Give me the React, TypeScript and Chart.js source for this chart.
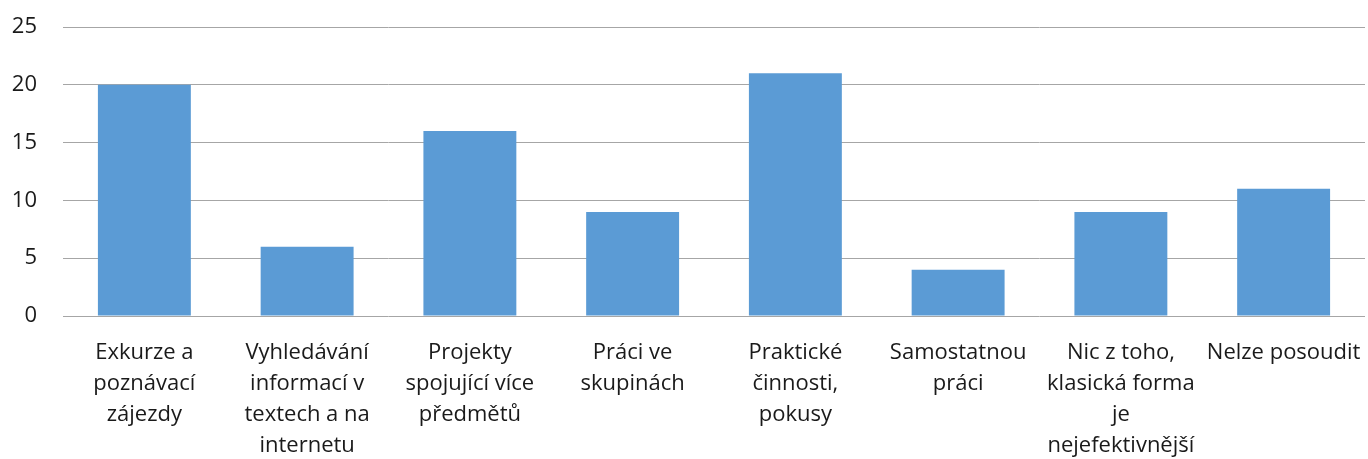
import React, { useEffect, useRef } from "react";
import { Chart, registerables } from "chart.js";

Chart.register(...registerables);

const categories: string[][] = [
  ["Exkurze a", "poznávací", "zájezdy"],
  ["Vyhledávání", "informací v", "textech a na", "internetu"],
  ["Projekty", "spojující více", "předmětů"],
  ["Práci ve", "skupinách"],
  ["Praktické", "činnosti,", "pokusy"],
  ["Samostatnou", "práci"],
  ["Nic z toho,", "klasická forma", "je", "nejefektivnější"],
  ["Nelze posoudit"],
];
const values: number[] = [20, 6, 16, 9, 21, 4, 9, 11];
const yTicks: number[] = [0, 5, 10, 15, 20, 25];

const FONT = "'Open Sans', Lato, sans-serif";

export default function App() {
  const ref = useRef<HTMLCanvasElement>(null);
  useEffect(() => {
    if (!ref.current) return;
    const chart = new Chart(ref.current, {
      type: "bar",
      data: {
        labels: categories,
        datasets: [
          {
            data: values,
            backgroundColor: "#5B9BD5",
            barPercentage: 0.571,
            categoryPercentage: 1,
          },
        ],
      },
      options: {
        animation: false,
        responsive: false,
        maintainAspectRatio: false,
        layout: { padding: { top: 27, right: 3, left: 0, bottom: 0 } },
        plugins: { legend: { display: false }, tooltip: { enabled: false } },
        scales: {
          x: {
            grid: { display: false },
            border: { display: false },
            ticks: {
              color: "#1a1a1a",
              font: { family: FONT, size: 22, lineHeight: "31px" },
              padding: 13,
              maxRotation: 0,
              autoSkip: false,
            },
            afterFit: (s: any) => {
              s.height = 143;
              s.paddingLeft = 0;
              s.paddingRight = 0;
            },
          },
          y: {
            min: 0,
            max: 25,
            afterBuildTicks: (s: any) => {
              s.ticks = yTicks.map((v) => ({ value: v }));
            },
            grid: { color: "#a6a6a6", lineWidth: 1, drawTicks: false },
            border: { display: false },
            ticks: {
              color: "#1a1a1a",
              font: { family: FONT, size: 22 },
              padding: 26,
            },
            afterFit: (s: any) => {
              s.width = 63;
              s.paddingTop = 0;
              s.paddingBottom = 0;
            },
          },
        },
      },
    });
    return () => chart.destroy();
  }, []);
  return (
    <div style={{ position: "fixed", left: 0, top: 0, width: 1368, height: 459, background: "#fff" }}>
      <canvas ref={ref} width={1368} height={459} style={{ display: "block" }} />
    </div>
  );
}
